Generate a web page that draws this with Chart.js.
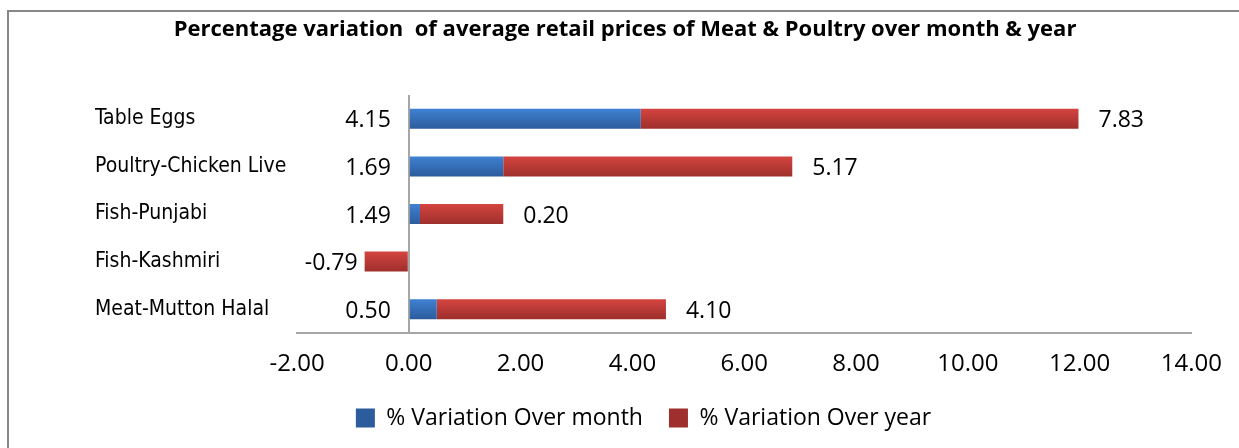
<!DOCTYPE html>
<html>
<head>
<meta charset="utf-8">
<script src="https://cdn.jsdelivr.net/npm/chart.js@4.4.1/dist/chart.umd.min.js"></script>
<style>
    body { margin: 0; background: #fff; }
    .frame {
        position: absolute; left: 7px; top: 10px; width: 1232px; height: 438px;
        border-left: 2px solid #878787; border-top: 2px solid #878787;
        box-sizing: border-box;
    }
    .wrap { position: absolute; left: 0; top: 0; width: 1239px; height: 448px; }
</style>
</head>
<body>
<div class="frame"></div>
<div class="wrap"><canvas id="chart" width="1239" height="448"></canvas></div>
<script>
// Meat & Poultry price variation data
const categories = ['Table Eggs', 'Poultry-Chicken Live', 'Fish-Punjabi', 'Fish-Kashmiri', 'Meat-Mutton Halal'];
const monthChange = [4.15, 1.69, 0.20, 0, 0.50];
const yearChange = [7.83, 5.17, 1.49, -0.79, 4.10];

// data label text as printed on the chart (left of the axis / right of the bar)
const leftLabels = ['4.15', '1.69', '1.49', '-0.79', '0.50'];
const rightLabels = ['7.83', '5.17', '0.20', '', '4.10'];

const xTicks = [-2, 0, 2, 4, 6, 8, 10, 12, 14];

const chartTitle = 'Percentage variation  of average retail prices of Meat & Poultry over month & year';

const LABEL_FONT = '"Open Sans", sans-serif';

function barGradient(top, bottom, solid) {
    return function (c) {
        const chart = c.chart;
        if (c.type !== 'data' || !chart.chartArea || !chart.scales.y) return solid;
        const yc = chart.scales.y.getPixelForValue(c.dataIndex);
        const g = chart.ctx.createLinearGradient(0, yc - 10, 0, yc + 10);
        g.addColorStop(0, top);
        g.addColorStop(1, bottom);
        return g;
    };
}

// title drawn by hand so it can sit centred on the whole frame
const titlePlugin = {
    id: 'frameTitle',
    afterDraw(chart) {
        const ctx = chart.ctx;
        ctx.save();
        ctx.font = 'bold 22px ' + LABEL_FONT;
        ctx.fillStyle = '#000';
        ctx.textAlign = 'center';
        ctx.textBaseline = 'middle';
        ctx.fillText(chartTitle, 625, 30);
        ctx.restore();
    }
};

const valueLabels = {
    id: 'valueLabels',
    afterDatasetsDraw(chart) {
        const { ctx, scales: { x, y } } = chart;
        ctx.save();
        ctx.font = '23px ' + LABEL_FONT;
        ctx.fillStyle = '#000';
        ctx.textBaseline = 'middle';
        categories.forEach((cat, i) => {
            const vals = [monthChange[i], yearChange[i]];
            const pos = vals.filter(v => v > 0).reduce((a, b) => a + b, 0);
            const neg = vals.filter(v => v < 0).reduce((a, b) => a + b, 0);
            const yc = y.getPixelForValue(i) + 2;
            ctx.textAlign = 'right';
            ctx.fillText(leftLabels[i], x.getPixelForValue(neg) - (neg < 0 ? 7 : 18), yc);
            if (rightLabels[i]) {
                ctx.textAlign = 'left';
                ctx.fillText(rightLabels[i], x.getPixelForValue(pos) + 20, yc);
            }
        });
        ctx.restore();
    }
};

new Chart(document.getElementById('chart'), {
    type: 'bar',
    data: {
        labels: categories,
        datasets: [{
            label: '% Variation Over month',
            data: monthChange,
            backgroundColor: barGradient('#3f81d2', '#2c5c9c', '#3670bb'),
            borderWidth: 0,
            barPercentage: 0.42,
            categoryPercentage: 1
        }, {
            label: '% Variation Over year',
            data: yearChange,
            backgroundColor: barGradient('#d4443f', '#9e2f2c', '#c03a36'),
            borderWidth: 0,
            barPercentage: 0.42,
            categoryPercentage: 1
        }]
    },
    options: {
        indexAxis: 'y',
        responsive: false,
        animation: false,
        layout: { padding: { left: 95, right: 47, top: 95, bottom: 8.5 } },
        plugins: {
            title: { display: false },
            legend: {
                position: 'bottom',
                labels: {
                    color: '#000',
                    font: { family: LABEL_FONT, size: 23 },
                    boxWidth: 19,
                    boxHeight: 19,
                    padding: 26
                }
            },
            tooltip: { enabled: false }
        },
        scales: {
            x: {
                stacked: true,
                min: -2,
                max: 14,
                afterBuildTicks: scale => { scale.ticks = xTicks.map(v => ({ value: v })); },
                ticks: {
                    color: '#000',
                    font: { family: LABEL_FONT, size: 24 },
                    padding: 17,
                    callback: v => Number(v).toFixed(2)
                },
                grid: {
                    drawTicks: false,
                    lineWidth: 2,
                    color: c => (c.tick && c.tick.value === 0 ? '#a6a6a6' : 'rgba(0,0,0,0)')
                },
                border: { display: true, color: '#a6a6a6', width: 2 },
                afterFit: scale => { scale.height = 47.5; }
            },
            y: {
                stacked: true,
                grid: { display: false },
                border: { display: false },
                ticks: {
                    color: '#000',
                    crossAlign: 'far',
                    padding: 12,
                    font: { family: '"DejaVu Sans Condensed", "DejaVu Sans", sans-serif', size: 21 }
                },
                afterFit: scale => { scale.width = 202; }
            }
        }
    },
    plugins: [valueLabels, titlePlugin]
});
</script>
</body>
</html>
